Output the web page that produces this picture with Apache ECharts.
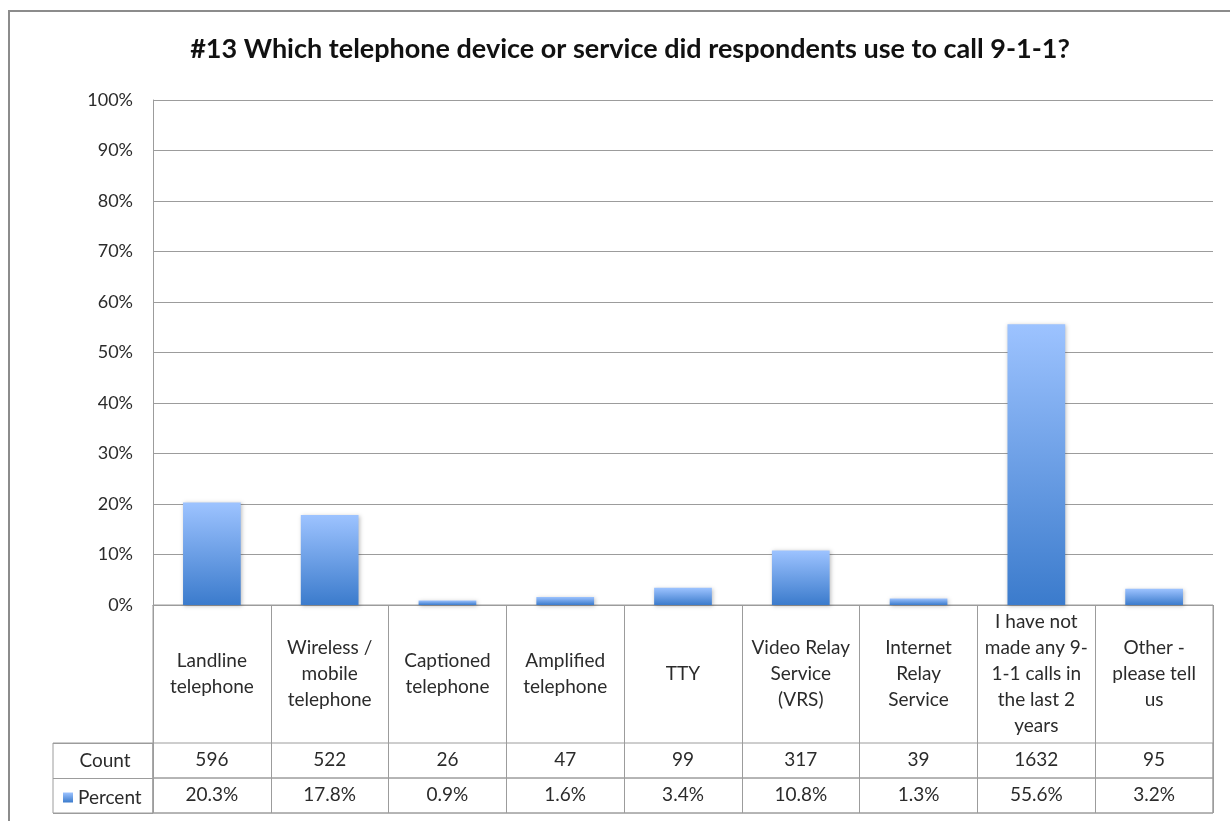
<!DOCTYPE html>
<html>
<head>
<meta charset="utf-8">
<script src="https://cdn.jsdelivr.net/npm/echarts@6/dist/echarts.min.js"></script>
<style>
  html, body { margin: 0; padding: 0; background: #fff; overflow: hidden; }
  #frame { position: absolute; left: 8px; top: 10px; width: 1400px; height: 1000px;
           border-left: 2px solid #8c8c8c; border-top: 2px solid #8c8c8c; }
  #chart { position: absolute; left: 0; top: 0; width: 1230px; height: 821px; }
</style>
</head>
<body>
<div id="frame"></div>
<div id="chart"></div>
<script>
// Survey question #13: device or service used to call 9-1-1
const categories = [
  'Landline\ntelephone',
  'Wireless /\nmobile\ntelephone',
  'Captioned\ntelephone',
  'Amplified\ntelephone',
  'TTY',
  'Video Relay\nService\n(VRS)',
  'Internet\nRelay\nService',
  'I have not\nmade any 9-\n1-1 calls in\nthe last 2\nyears',
  'Other -\nplease tell\nus'
];
const counts = [596, 522, 26, 47, 99, 317, 39, 1632, 95];
const percents = [20.3, 17.8, 0.9, 1.6, 3.4, 10.8, 1.3, 55.6, 3.2];
const yTicks = [0, 10, 20, 30, 40, 50, 60, 70, 80, 90, 100];

const FONT = 'Lato, "Open Sans", sans-serif';
const TEXT = '#2b2b2b';
const LINE = '#9c9c9c';
const TABLE_SIZE = 19;

const barGradient = new echarts.graphic.LinearGradient(0, 0, 0, 1, [
  { offset: 0, color: '#9dc3ff' },
  { offset: 1, color: '#3b7bcc' }
]);

const hiddenValueAxis = (gridIndex) => ({
  type: 'value', gridIndex: gridIndex, show: false, min: 0, max: 1
});

const tableRowAxis = (gridIndex, formatter) => ({
  type: 'category', gridIndex: gridIndex, data: categories, position: 'top',
  axisLine: { show: false }, axisTick: { show: false },
  splitLine: { show: true, interval: 0, lineStyle: { color: LINE, width: 1 } },
  axisLabel: {
    show: true, inside: true, interval: 0, margin: 17,
    verticalAlign: 'middle', align: 'center',
    fontFamily: FONT, fontSize: TABLE_SIZE, color: TEXT,
    formatter: formatter
  }
});

const chart = echarts.init(document.getElementById('chart'), null, { renderer: 'canvas' });

chart.setOption({
  animation: false,
  backgroundColor: 'transparent',
  title: {
    text: '#13 Which telephone device or service did respondents use to call 9-1-1?',
    left: 625, top: 31, textAlign: 'center',
    textStyle: { fontFamily: FONT, fontWeight: 'bold', fontSize: 27, color: '#111' }
  },
  legend: {
    data: ['Percent'], left: 58, top: 783, icon: 'rect',
    itemWidth: 10, itemHeight: 10, itemGap: 5,
    textStyle: { fontFamily: FONT, fontSize: TABLE_SIZE, color: TEXT }
  },
  grid: [
    // plot area
    { left: 153, right: 17, top: 100, bottom: 216 },
    // category label row of the data table
    { left: 153, right: 17, top: 605, height: 208, show: true, borderColor: LINE, borderWidth: 1 },
    // count row
    { left: 153, right: 17, top: 743, height: 35, show: true, borderColor: LINE, borderWidth: 1 },
    // percent row
    { left: 153, right: 17, top: 778, height: 35, show: true, borderColor: LINE, borderWidth: 1 },
    // row headers
    { left: 53, width: 100, top: 743, height: 70, show: true, borderColor: LINE, borderWidth: 1 }
  ],
  xAxis: [
    {
      type: 'category', gridIndex: 0, data: categories,
      axisLine: { show: true, lineStyle: { color: LINE, width: 1 } },
      axisTick: { show: false },
      axisLabel: {
        interval: 0, margin: 69, verticalAlign: 'middle', align: 'center',
        lineHeight: 26, fontFamily: FONT, fontSize: TABLE_SIZE, color: TEXT
      }
    },
    {
      type: 'category', gridIndex: 1, data: categories,
      axisLine: { show: false }, axisTick: { show: false }, axisLabel: { show: false },
      splitLine: { show: true, interval: 0, lineStyle: { color: LINE, width: 1 } }
    },
    tableRowAxis(2, (v, i) => String(counts[i])),
    tableRowAxis(3, (v, i) => percents[i].toFixed(1) + '%'),
    hiddenValueAxis(4)
  ],
  yAxis: [
    {
      type: 'value', gridIndex: 0, min: yTicks[0], max: yTicks[yTicks.length - 1], interval: 10,
      axisLine: { show: true, lineStyle: { color: LINE, width: 1 } },
      axisTick: { show: false },
      splitLine: { show: true, lineStyle: { color: LINE, width: 1 } },
      axisLabel: { margin: 20, fontFamily: FONT, fontSize: 18, color: TEXT, formatter: '{value}%' }
    },
    hiddenValueAxis(1),
    hiddenValueAxis(2),
    hiddenValueAxis(3),
    {
      type: 'category', gridIndex: 4, data: ['Count', 'Percent'], inverse: true,
      axisLine: { show: false }, axisTick: { show: false },
      splitLine: { show: true, interval: 0, lineStyle: { color: LINE, width: 1 } },
      axisLabel: {
        inside: true, margin: 52, align: 'center', verticalAlign: 'middle',
        fontFamily: FONT, fontSize: TABLE_SIZE, color: TEXT,
        formatter: (v) => (v === 'Count' ? v : '')
      }
    }
  ],
  series: [
    {
      name: 'Percent', type: 'bar', xAxisIndex: 0, yAxisIndex: 0,
      data: percents, barWidth: '49%',
      itemStyle: {
        color: barGradient,
        shadowBlur: 4, shadowColor: 'rgba(0,0,0,0.25)', shadowOffsetX: 1, shadowOffsetY: 1
      }
    }
  ]
});
</script>
</body>
</html>
